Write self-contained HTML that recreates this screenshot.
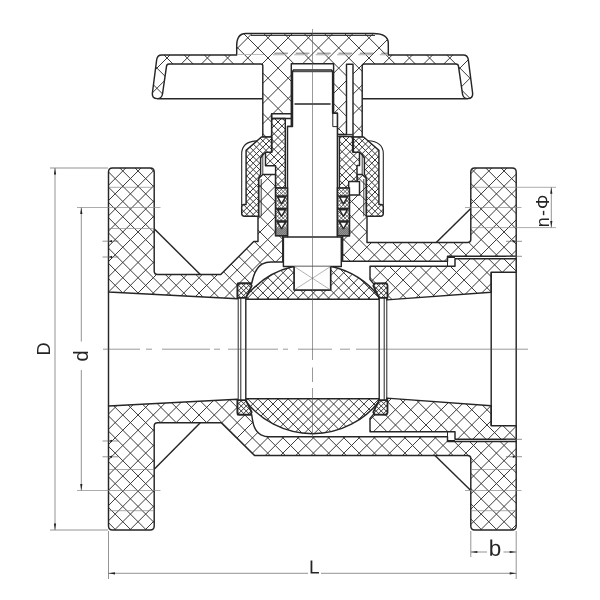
<!DOCTYPE html>
<html><head><meta charset="utf-8"><title>Ball valve</title>
<style>html,body{margin:0;padding:0;background:#fff;}svg{display:block}text{font-family:"Liberation Sans",sans-serif;fill:#222;filter:grayscale(1)}</style>
</head><body>
<svg width="600" height="600" viewBox="0 0 600 600">
<rect width="600" height="600" fill="#fff"/>
<defs>
<clipPath id="c1"><path d="M108.5,172 Q108.5,168 112.5,168 L150.2,168 Q154.2,168 154.2,172 L154.2,271 Q154.2,274.5 157.7,274.5 L220.75,274.5 L253.75,241.5 L258,241.5 L258,216.25 L258.6,216.25 L258.6,178.5 L262.8,174.4 L275.6,174.4 L275.6,235.6 L282.8,235.6 L282.8,262 L271,262 Q266,262 262,264.2 C255.5,268 253.2,276 251.7,283.3 L237.5,283.3 L237.5,298.8 L108.5,292 Z"/></clipPath>
<clipPath id="c2"><path d="M349.4,195 L359.5,195 L359.5,181.5 L357,181.5 L357,174.4 L362.2,174.4 L366.4,178.5 L366.4,216.25 L367,216.25 L367,242.5 L467.5,242.5 Q470.8,242.5 470.8,239.5 L470.8,172 Q470.8,168 474.8,168 L512.2,168 Q516.2,168 516.2,172 L516.2,256.25 L447.5,256.25 L447.5,261.25 L342.6,261.25 L342.6,235.75 L349.4,235.75 Z"/></clipPath>
<clipPath id="c3"><path d="M108.5,406 L237.5,399.2 L237.5,414.7 L251.7,414.7 C252.8,422 253.6,431 261,434.8 Q265,436.8 269,436.8 L447.5,436.8 L447.5,441.5 L516.2,441.5 L516.2,526 Q516.2,530 512.2,530 L474.8,530 Q470.8,530 470.8,526 L470.8,458.5 Q470.8,455.5 467.5,455.5 L254.5,455.5 L221.25,422.8 L157.7,422.8 Q154.2,422.8 154.2,426 L154.2,526 Q154.2,530 150.2,530 L112.5,530 Q108.5,530 108.5,526 Z"/></clipPath>
<clipPath id="c4"><path d="M370,266.25 L455,266.25 L455,258.75 L516.2,258.75 L516.2,272.3 L491.2,272.3 L491.2,292.3 L386.8,299.9 L386.8,283.2 L373.5,283.6 L370,279.5 Z"/></clipPath>
<clipPath id="c5"><path d="M370,431.75 L455,431.75 L455,439.25 L516.2,439.25 L516.2,425.7 L491.2,425.7 L491.2,405.7 L386.8,398.1 L386.8,414.8 L373.5,414.4 L370,418.5 Z"/></clipPath>
<clipPath id="c6"><path d="M245.8,299.3 L245.8,296.80 A84.7,84.7 0 0 1 293.32,266.5 L294.2,266.5 L294.2,290 L330.6,290 L330.6,266.5 L331.68,266.5 A84.7,84.7 0 0 1 379.2,296.80 L379.2,299.3 Z"/></clipPath>
<clipPath id="c7"><path d="M245.8,398.7 L245.8,401.2 A84.7,84.7 0 0 0 379.2,401.2 L379.2,398.7 Z"/></clipPath>
<clipPath id="c8"><path d="M237.5,285 L239,283.3 L250.3,283.3 L251.7,285.8 L245.8,297.8 L237.5,297.8 Z"/></clipPath>
<clipPath id="c9"><path d="M237.5,413.0 L239,414.7 L250.3,414.7 L251.7,412.2 L245.8,400.2 L237.5,400.2 Z"/></clipPath>
<clipPath id="c10"><path d="M387.5,285 L386.0,283.3 L374.7,283.3 L373.3,285.8 L379.2,297.8 L387.5,297.8 Z"/></clipPath>
<clipPath id="c11"><path d="M387.5,413.0 L386.0,414.7 L374.7,414.7 L373.3,412.2 L379.2,400.2 L387.5,400.2 Z"/></clipPath>
<clipPath id="c12"><path d="M236.7,55 L236.7,45.8 Q236.7,33.4 245.8,33.4 L373.3,33.4 Q388.3,33.4 388.3,43.3 L388.3,55 L463.3,55 Q467.6,55 468.3,59.5 L472.6,93 Q473.2,98.8 467.6,98.6 Q463.2,98.5 462.5,94 L458.5,66.3 Q458.3,64 456,64 L364.2,64 Q362.2,64 362.2,66 L362.2,137.2 L353,137.2 L353,64.2 L346.5,64.2 L346.5,134.4 L337.4,134.4 L337.4,113.3 L333.6,113.3 L333.6,63.8 L291.3,63.8 L291.3,113.8 L271.6,113.8 L271.6,136.9 L262.8,136.9 L262.8,66 Q262.8,64 260.8,64 L169,64 Q166.7,64 166.5,66.3 L162.5,94 Q161.8,98.5 157.4,98.6 Q151.8,98.8 152.4,93 L156.7,59.5 Q157.4,55 161.7,55 Z"/></clipPath>
<clipPath id="c13"><path d="M271.8,118.4 L285.3,118.4 L285.3,188 L275.6,188 L275.6,165.7 L265.5,165.7 L265.5,152.2 L271.8,152.2 Z"/></clipPath>
<clipPath id="c14"><path d="M352.6,136.5 L339.4,136.5 L339.4,188.1 L348.7,188.1 L348.7,181.5 L357,181.5 L357,165.4 L359.5,165.4 L359.5,152.1 L352.6,152.1 Z"/></clipPath>
<clipPath id="c15"><path d="M261.4,137 L271.6,137 L271.6,152.2 L265.5,152.2 L262.2,155.5 L260.6,158 L260.6,174 L258.6,178.5 L258.6,216.25 L244.5,216.25 Q241.7,216.25 241.7,213.5 L241.7,206.5 Q241.7,204.4 244,204.4 L246.1,204.4 L246.1,150.3 Z"/></clipPath>
<clipPath id="c16"><path d="M363.6,137 L353.4,137 L353.4,152.2 L359.5,152.2 L362.8,155.5 L364.4,158 L364.4,174 L366.4,178.5 L366.4,216.25 L380.5,216.25 Q383.3,216.25 383.3,213.5 L383.3,206.5 Q383.3,204.4 381.0,204.4 L378.9,204.4 L378.9,150.3 Z"/></clipPath>
<clipPath id="c17"><path d="M275.6,188.1 L287.5,188.1 L287.5,235.8 L275.6,235.8 Z"/></clipPath>
<clipPath id="c18"><path d="M275.6,227.5 L287.5,227.5 L287.5,235.8 L275.6,235.8 Z"/></clipPath>
<clipPath id="c19"><path d="M337.5,188.1 L349.4,188.1 L349.4,235.8 L337.5,235.8 Z"/></clipPath>
<clipPath id="c20"><path d="M337.5,227.5 L349.4,227.5 L349.4,235.8 L337.5,235.8 Z"/></clipPath>
</defs>
<path d="M108.5,172 Q108.5,168 112.5,168 L150.2,168 Q154.2,168 154.2,172 L154.2,271 Q154.2,274.5 157.7,274.5 L220.75,274.5 L253.75,241.5 L258,241.5 L258,216.25 L258.6,216.25 L258.6,178.5 L262.8,174.4 L275.6,174.4 L275.6,235.6 L282.8,235.6 L282.8,262 L271,262 Q266,262 262,264.2 C255.5,268 253.2,276 251.7,283.3 L237.5,283.3 L237.5,298.8 L108.5,292 Z" fill="#fff" stroke="none"/>
<path clip-path="url(#c1)" d="M-55.93,160.00L94.07,310.00M-40.68,160.00L109.32,310.00M-25.43,160.00L124.57,310.00M-10.18,160.00L139.82,310.00M5.07,160.00L155.07,310.00M20.32,160.00L170.32,310.00M35.57,160.00L185.57,310.00M50.82,160.00L200.82,310.00M66.07,160.00L216.07,310.00M81.32,160.00L231.32,310.00M96.57,160.00L246.57,310.00M111.82,160.00L261.82,310.00M127.07,160.00L277.07,310.00M142.32,160.00L292.32,310.00M157.57,160.00L307.57,310.00M172.82,160.00L322.82,310.00M188.07,160.00L338.07,310.00M203.32,160.00L353.32,310.00M218.57,160.00L368.57,310.00M233.82,160.00L383.82,310.00M249.07,160.00L399.07,310.00M264.32,160.00L414.32,310.00M279.57,160.00L429.57,310.00M294.82,160.00L444.82,310.00M88.02,160.00L-61.98,310.00M103.27,160.00L-46.73,310.00M118.52,160.00L-31.48,310.00M133.77,160.00L-16.23,310.00M149.02,160.00L-0.98,310.00M164.27,160.00L14.27,310.00M179.52,160.00L29.52,310.00M194.77,160.00L44.77,310.00M210.02,160.00L60.02,310.00M225.27,160.00L75.27,310.00M240.52,160.00L90.52,310.00M255.77,160.00L105.77,310.00M271.02,160.00L121.02,310.00M286.27,160.00L136.27,310.00M301.52,160.00L151.52,310.00M316.77,160.00L166.77,310.00M332.02,160.00L182.02,310.00M347.27,160.00L197.27,310.00M362.52,160.00L212.52,310.00M377.77,160.00L227.77,310.00M393.02,160.00L243.02,310.00M408.27,160.00L258.27,310.00M423.52,160.00L273.52,310.00M438.77,160.00L288.77,310.00" fill="none" stroke="#3a3a3a" stroke-width="1.0"/>
<path d="M108.5,172 Q108.5,168 112.5,168 L150.2,168 Q154.2,168 154.2,172 L154.2,271 Q154.2,274.5 157.7,274.5 L220.75,274.5 L253.75,241.5 L258,241.5 L258,216.25 L258.6,216.25 L258.6,178.5 L262.8,174.4 L275.6,174.4 L275.6,235.6 L282.8,235.6 L282.8,262 L271,262 Q266,262 262,264.2 C255.5,268 253.2,276 251.7,283.3 L237.5,283.3 L237.5,298.8 L108.5,292 Z" fill="none" stroke="#262626" stroke-width="1.45" stroke-linejoin="round"/>
<path d="M349.4,195 L359.5,195 L359.5,181.5 L357,181.5 L357,174.4 L362.2,174.4 L366.4,178.5 L366.4,216.25 L367,216.25 L367,242.5 L467.5,242.5 Q470.8,242.5 470.8,239.5 L470.8,172 Q470.8,168 474.8,168 L512.2,168 Q516.2,168 516.2,172 L516.2,256.25 L447.5,256.25 L447.5,261.25 L342.6,261.25 L342.6,235.75 L349.4,235.75 Z" fill="#fff" stroke="none"/>
<path clip-path="url(#c2)" d="M218.57,160.00L328.57,270.00M233.82,160.00L343.82,270.00M249.07,160.00L359.07,270.00M264.32,160.00L374.32,270.00M279.57,160.00L389.57,270.00M294.82,160.00L404.82,270.00M310.07,160.00L420.07,270.00M325.32,160.00L435.32,270.00M340.57,160.00L450.57,270.00M355.82,160.00L465.82,270.00M371.07,160.00L481.07,270.00M386.32,160.00L496.32,270.00M401.57,160.00L511.57,270.00M416.82,160.00L526.82,270.00M432.07,160.00L542.07,270.00M447.32,160.00L557.32,270.00M462.57,160.00L572.57,270.00M477.82,160.00L587.82,270.00M493.07,160.00L603.07,270.00M508.32,160.00L618.32,270.00M523.57,160.00L633.57,270.00M316.77,160.00L206.77,270.00M332.02,160.00L222.02,270.00M347.27,160.00L237.27,270.00M362.52,160.00L252.52,270.00M377.77,160.00L267.77,270.00M393.02,160.00L283.02,270.00M408.27,160.00L298.27,270.00M423.52,160.00L313.52,270.00M438.77,160.00L328.77,270.00M454.02,160.00L344.02,270.00M469.27,160.00L359.27,270.00M484.52,160.00L374.52,270.00M499.77,160.00L389.77,270.00M515.02,160.00L405.02,270.00M530.27,160.00L420.27,270.00M545.52,160.00L435.52,270.00M560.77,160.00L450.77,270.00M576.02,160.00L466.02,270.00M591.27,160.00L481.27,270.00M606.52,160.00L496.52,270.00M621.77,160.00L511.77,270.00M637.02,160.00L527.02,270.00" fill="none" stroke="#3a3a3a" stroke-width="1.0"/>
<path d="M349.4,195 L359.5,195 L359.5,181.5 L357,181.5 L357,174.4 L362.2,174.4 L366.4,178.5 L366.4,216.25 L367,216.25 L367,242.5 L467.5,242.5 Q470.8,242.5 470.8,239.5 L470.8,172 Q470.8,168 474.8,168 L512.2,168 Q516.2,168 516.2,172 L516.2,256.25 L447.5,256.25 L447.5,261.25 L342.6,261.25 L342.6,235.75 L349.4,235.75 Z" fill="none" stroke="#262626" stroke-width="1.45" stroke-linejoin="round"/>
<path d="M108.5,406 L237.5,399.2 L237.5,414.7 L251.7,414.7 C252.8,422 253.6,431 261,434.8 Q265,436.8 269,436.8 L447.5,436.8 L447.5,441.5 L516.2,441.5 L516.2,526 Q516.2,530 512.2,530 L474.8,530 Q470.8,530 470.8,526 L470.8,458.5 Q470.8,455.5 467.5,455.5 L254.5,455.5 L221.25,422.8 L157.7,422.8 Q154.2,422.8 154.2,426 L154.2,526 Q154.2,530 150.2,530 L112.5,530 Q108.5,530 108.5,526 Z" fill="#fff" stroke="none"/>
<path clip-path="url(#c3)" d="M-54.68,390.00L95.32,540.00M-39.43,390.00L110.57,540.00M-24.18,390.00L125.82,540.00M-8.93,390.00L141.07,540.00M6.32,390.00L156.32,540.00M21.57,390.00L171.57,540.00M36.82,390.00L186.82,540.00M52.07,390.00L202.07,540.00M67.32,390.00L217.32,540.00M82.57,390.00L232.57,540.00M97.82,390.00L247.82,540.00M113.07,390.00L263.07,540.00M128.32,390.00L278.32,540.00M143.57,390.00L293.57,540.00M158.82,390.00L308.82,540.00M174.07,390.00L324.07,540.00M189.32,390.00L339.32,540.00M204.57,390.00L354.57,540.00M219.82,390.00L369.82,540.00M235.07,390.00L385.07,540.00M250.32,390.00L400.32,540.00M265.57,390.00L415.57,540.00M280.82,390.00L430.82,540.00M296.07,390.00L446.07,540.00M311.32,390.00L461.32,540.00M326.57,390.00L476.57,540.00M341.82,390.00L491.82,540.00M357.07,390.00L507.07,540.00M372.32,390.00L522.32,540.00M387.57,390.00L537.57,540.00M402.82,390.00L552.82,540.00M418.07,390.00L568.07,540.00M433.32,390.00L583.32,540.00M448.57,390.00L598.57,540.00M463.82,390.00L613.82,540.00M479.07,390.00L629.07,540.00M494.32,390.00L644.32,540.00M509.57,390.00L659.57,540.00M524.82,390.00L674.82,540.00M86.77,390.00L-63.23,540.00M102.02,390.00L-47.98,540.00M117.27,390.00L-32.73,540.00M132.52,390.00L-17.48,540.00M147.77,390.00L-2.23,540.00M163.02,390.00L13.02,540.00M178.27,390.00L28.27,540.00M193.52,390.00L43.52,540.00M208.77,390.00L58.77,540.00M224.02,390.00L74.02,540.00M239.27,390.00L89.27,540.00M254.52,390.00L104.52,540.00M269.77,390.00L119.77,540.00M285.02,390.00L135.02,540.00M300.27,390.00L150.27,540.00M315.52,390.00L165.52,540.00M330.77,390.00L180.77,540.00M346.02,390.00L196.02,540.00M361.27,390.00L211.27,540.00M376.52,390.00L226.52,540.00M391.77,390.00L241.77,540.00M407.02,390.00L257.02,540.00M422.27,390.00L272.27,540.00M437.52,390.00L287.52,540.00M452.77,390.00L302.77,540.00M468.02,390.00L318.02,540.00M483.27,390.00L333.27,540.00M498.52,390.00L348.52,540.00M513.77,390.00L363.77,540.00M529.02,390.00L379.02,540.00M544.27,390.00L394.27,540.00M559.52,390.00L409.52,540.00M574.77,390.00L424.77,540.00M590.02,390.00L440.02,540.00M605.27,390.00L455.27,540.00M620.52,390.00L470.52,540.00M635.77,390.00L485.77,540.00M651.02,390.00L501.02,540.00M666.27,390.00L516.27,540.00" fill="none" stroke="#3a3a3a" stroke-width="1.0"/>
<path d="M108.5,406 L237.5,399.2 L237.5,414.7 L251.7,414.7 C252.8,422 253.6,431 261,434.8 Q265,436.8 269,436.8 L447.5,436.8 L447.5,441.5 L516.2,441.5 L516.2,526 Q516.2,530 512.2,530 L474.8,530 Q470.8,530 470.8,526 L470.8,458.5 Q470.8,455.5 467.5,455.5 L254.5,455.5 L221.25,422.8 L157.7,422.8 Q154.2,422.8 154.2,426 L154.2,526 Q154.2,530 150.2,530 L112.5,530 Q108.5,530 108.5,526 Z" fill="none" stroke="#262626" stroke-width="1.45" stroke-linejoin="round"/>
<path d="M108.5,292 L108.5,406" fill="none" stroke="#262626" stroke-width="1.45" stroke-linejoin="round" stroke-linecap="butt" />
<path d="M516.2,256 L516.2,442" fill="none" stroke="#262626" stroke-width="1.45" stroke-linejoin="round" stroke-linecap="butt" />
<path d="M154.2,228.75 L200.3,274.5" fill="none" stroke="#262626" stroke-width="1.45" stroke-linejoin="round" stroke-linecap="butt" />
<path d="M154.2,469.25 L200.3,422.8" fill="none" stroke="#262626" stroke-width="1.45" stroke-linejoin="round" stroke-linecap="butt" />
<path d="M436.25,242.5 L470.8,208.5" fill="none" stroke="#262626" stroke-width="1.45" stroke-linejoin="round" stroke-linecap="butt" />
<path d="M435,455.5 L470.8,490.5" fill="none" stroke="#262626" stroke-width="1.45" stroke-linejoin="round" stroke-linecap="butt" />
<path d="M370,266.25 L455,266.25 L455,258.75 L516.2,258.75 L516.2,272.3 L491.2,272.3 L491.2,292.3 L386.8,299.9 L386.8,283.2 L373.5,283.6 L370,279.5 Z" fill="#fff" stroke="none"/>
<path clip-path="url(#c4)" d="M296.75,250.00L356.75,310.00M312.00,250.00L372.00,310.00M327.25,250.00L387.25,310.00M342.50,250.00L402.50,310.00M357.75,250.00L417.75,310.00M373.00,250.00L433.00,310.00M388.25,250.00L448.25,310.00M403.50,250.00L463.50,310.00M418.75,250.00L478.75,310.00M434.00,250.00L494.00,310.00M449.25,250.00L509.25,310.00M464.50,250.00L524.50,310.00M479.75,250.00L539.75,310.00M495.00,250.00L555.00,310.00M510.25,250.00L570.25,310.00M525.50,250.00L585.50,310.00M356.95,250.00L296.95,310.00M372.20,250.00L312.20,310.00M387.45,250.00L327.45,310.00M402.70,250.00L342.70,310.00M417.95,250.00L357.95,310.00M433.20,250.00L373.20,310.00M448.45,250.00L388.45,310.00M463.70,250.00L403.70,310.00M478.95,250.00L418.95,310.00M494.20,250.00L434.20,310.00M509.45,250.00L449.45,310.00M524.70,250.00L464.70,310.00M539.95,250.00L479.95,310.00M555.20,250.00L495.20,310.00M570.45,250.00L510.45,310.00M585.70,250.00L525.70,310.00" fill="none" stroke="#3a3a3a" stroke-width="1.0"/>
<path d="M370,266.25 L455,266.25 L455,258.75 L516.2,258.75 L516.2,272.3 L491.2,272.3 L491.2,292.3 L386.8,299.9 L386.8,283.2 L373.5,283.6 L370,279.5 Z" fill="none" stroke="#262626" stroke-width="1.45" stroke-linejoin="round"/>
<path d="M370,431.75 L455,431.75 L455,439.25 L516.2,439.25 L516.2,425.7 L491.2,425.7 L491.2,405.7 L386.8,398.1 L386.8,414.8 L373.5,414.4 L370,418.5 Z" fill="#fff" stroke="none"/>
<path clip-path="url(#c5)" d="M299.50,390.00L359.50,450.00M314.75,390.00L374.75,450.00M330.00,390.00L390.00,450.00M345.25,390.00L405.25,450.00M360.50,390.00L420.50,450.00M375.75,390.00L435.75,450.00M391.00,390.00L451.00,450.00M406.25,390.00L466.25,450.00M421.50,390.00L481.50,450.00M436.75,390.00L496.75,450.00M452.00,390.00L512.00,450.00M467.25,390.00L527.25,450.00M482.50,390.00L542.50,450.00M497.75,390.00L557.75,450.00M513.00,390.00L573.00,450.00M528.25,390.00L588.25,450.00M354.20,390.00L294.20,450.00M369.45,390.00L309.45,450.00M384.70,390.00L324.70,450.00M399.95,390.00L339.95,450.00M415.20,390.00L355.20,450.00M430.45,390.00L370.45,450.00M445.70,390.00L385.70,450.00M460.95,390.00L400.95,450.00M476.20,390.00L416.20,450.00M491.45,390.00L431.45,450.00M506.70,390.00L446.70,450.00M521.95,390.00L461.95,450.00M537.20,390.00L477.20,450.00M552.45,390.00L492.45,450.00M567.70,390.00L507.70,450.00M582.95,390.00L522.95,450.00" fill="none" stroke="#3a3a3a" stroke-width="1.0"/>
<path d="M370,431.75 L455,431.75 L455,439.25 L516.2,439.25 L516.2,425.7 L491.2,425.7 L491.2,405.7 L386.8,398.1 L386.8,414.8 L373.5,414.4 L370,418.5 Z" fill="none" stroke="#262626" stroke-width="1.45" stroke-linejoin="round"/>
<path d="M491.2,272.3 L491.2,425.7" fill="none" stroke="#262626" stroke-width="1.45" stroke-linejoin="round" stroke-linecap="butt" />
<path d="M447.5,257.5 L455,257.5 M447.5,440.5 L455,440.5 M447.5,256.25 L447.5,266.25 M447.5,441.75 L447.5,431.75" fill="none" stroke="#262626" stroke-width="1.0" stroke-linejoin="round" stroke-linecap="butt" />
<path d="M245.8,299.3 L245.8,296.80 A84.7,84.7 0 0 1 293.32,266.5 L294.2,266.5 L294.2,290 L330.6,290 L330.6,266.5 L331.68,266.5 A84.7,84.7 0 0 1 379.2,296.80 L379.2,299.3 Z" fill="#fff" stroke="none"/>
<path clip-path="url(#c6)" d="M184.60,255.00L234.60,305.00M194.70,255.00L244.70,305.00M204.80,255.00L254.80,305.00M214.90,255.00L264.90,305.00M225.00,255.00L275.00,305.00M235.10,255.00L285.10,305.00M245.20,255.00L295.20,305.00M255.30,255.00L305.30,305.00M265.40,255.00L315.40,305.00M275.50,255.00L325.50,305.00M285.60,255.00L335.60,305.00M295.70,255.00L345.70,305.00M305.80,255.00L355.80,305.00M315.90,255.00L365.90,305.00M326.00,255.00L376.00,305.00M336.10,255.00L386.10,305.00M346.20,255.00L396.20,305.00M356.30,255.00L406.30,305.00M366.40,255.00L416.40,305.00M376.50,255.00L426.50,305.00M230.10,255.00L180.10,305.00M240.20,255.00L190.20,305.00M250.30,255.00L200.30,305.00M260.40,255.00L210.40,305.00M270.50,255.00L220.50,305.00M280.60,255.00L230.60,305.00M290.70,255.00L240.70,305.00M300.80,255.00L250.80,305.00M310.90,255.00L260.90,305.00M321.00,255.00L271.00,305.00M331.10,255.00L281.10,305.00M341.20,255.00L291.20,305.00M351.30,255.00L301.30,305.00M361.40,255.00L311.40,305.00M371.50,255.00L321.50,305.00M381.60,255.00L331.60,305.00M391.70,255.00L341.70,305.00M401.80,255.00L351.80,305.00M411.90,255.00L361.90,305.00M422.00,255.00L372.00,305.00M432.10,255.00L382.10,305.00" fill="none" stroke="#3a3a3a" stroke-width="1.0"/>
<path d="M245.8,299.3 L245.8,296.80 A84.7,84.7 0 0 1 293.32,266.5 L294.2,266.5 L294.2,290 L330.6,290 L330.6,266.5 L331.68,266.5 A84.7,84.7 0 0 1 379.2,296.80 L379.2,299.3 Z" fill="none" stroke="#262626" stroke-width="1.45" stroke-linejoin="round"/>
<path d="M245.8,398.7 L245.8,401.2 A84.7,84.7 0 0 0 379.2,401.2 L379.2,398.7 Z" fill="#fff" stroke="none"/>
<path clip-path="url(#c7)" d="M193.30,395.00L238.30,440.00M203.40,395.00L248.40,440.00M213.50,395.00L258.50,440.00M223.60,395.00L268.60,440.00M233.70,395.00L278.70,440.00M243.80,395.00L288.80,440.00M253.90,395.00L298.90,440.00M264.00,395.00L309.00,440.00M274.10,395.00L319.10,440.00M284.20,395.00L329.20,440.00M294.30,395.00L339.30,440.00M304.40,395.00L349.40,440.00M314.50,395.00L359.50,440.00M324.60,395.00L369.60,440.00M334.70,395.00L379.70,440.00M344.80,395.00L389.80,440.00M354.90,395.00L399.90,440.00M365.00,395.00L410.00,440.00M375.10,395.00L420.10,440.00M231.50,395.00L186.50,440.00M241.60,395.00L196.60,440.00M251.70,395.00L206.70,440.00M261.80,395.00L216.80,440.00M271.90,395.00L226.90,440.00M282.00,395.00L237.00,440.00M292.10,395.00L247.10,440.00M302.20,395.00L257.20,440.00M312.30,395.00L267.30,440.00M322.40,395.00L277.40,440.00M332.50,395.00L287.50,440.00M342.60,395.00L297.60,440.00M352.70,395.00L307.70,440.00M362.80,395.00L317.80,440.00M372.90,395.00L327.90,440.00M383.00,395.00L338.00,440.00M393.10,395.00L348.10,440.00M403.20,395.00L358.20,440.00M413.30,395.00L368.30,440.00M423.40,395.00L378.40,440.00" fill="none" stroke="#3a3a3a" stroke-width="1.0"/>
<path d="M245.8,398.7 L245.8,401.2 A84.7,84.7 0 0 0 379.2,401.2 L379.2,398.7 Z" fill="none" stroke="#262626" stroke-width="1.45" stroke-linejoin="round"/>
<path d="M237.5,285 L239,283.3 L250.3,283.3 L251.7,285.8 L245.8,297.8 L237.5,297.8 Z" fill="#fff" stroke="none"/>
<path clip-path="url(#c8)" d="M215.50,282.30L232.00,298.80M220.50,282.30L237.00,298.80M225.50,282.30L242.00,298.80M230.50,282.30L247.00,298.80M235.50,282.30L252.00,298.80M240.50,282.30L257.00,298.80M245.50,282.30L262.00,298.80M250.50,282.30L267.00,298.80M231.90,282.30L215.40,298.80M236.90,282.30L220.40,298.80M241.90,282.30L225.40,298.80M246.90,282.30L230.40,298.80M251.90,282.30L235.40,298.80M256.90,282.30L240.40,298.80M261.90,282.30L245.40,298.80M266.90,282.30L250.40,298.80" fill="none" stroke="#3a3a3a" stroke-width="1.0"/>
<path d="M237.5,285 L239,283.3 L250.3,283.3 L251.7,285.8 L245.8,297.8 L237.5,297.8 Z" fill="none" stroke="#262626" stroke-width="1.8" stroke-linejoin="round"/>
<path d="M237.5,413.0 L239,414.7 L250.3,414.7 L251.7,412.2 L245.8,400.2 L237.5,400.2 Z" fill="#fff" stroke="none"/>
<path clip-path="url(#c9)" d="M219.40,399.20L235.90,415.70M224.40,399.20L240.90,415.70M229.40,399.20L245.90,415.70M234.40,399.20L250.90,415.70M239.40,399.20L255.90,415.70M244.40,399.20L260.90,415.70M249.40,399.20L265.90,415.70M233.00,399.20L216.50,415.70M238.00,399.20L221.50,415.70M243.00,399.20L226.50,415.70M248.00,399.20L231.50,415.70M253.00,399.20L236.50,415.70M258.00,399.20L241.50,415.70M263.00,399.20L246.50,415.70M268.00,399.20L251.50,415.70" fill="none" stroke="#3a3a3a" stroke-width="1.0"/>
<path d="M237.5,413.0 L239,414.7 L250.3,414.7 L251.7,412.2 L245.8,400.2 L237.5,400.2 Z" fill="none" stroke="#262626" stroke-width="1.8" stroke-linejoin="round"/>
<path d="M387.5,285 L386.0,283.3 L374.7,283.3 L373.3,285.8 L379.2,297.8 L387.5,297.8 Z" fill="#fff" stroke="none"/>
<path clip-path="url(#c10)" d="M355.50,282.30L372.00,298.80M360.50,282.30L377.00,298.80M365.50,282.30L382.00,298.80M370.50,282.30L387.00,298.80M375.50,282.30L392.00,298.80M380.50,282.30L397.00,298.80M385.50,282.30L402.00,298.80M371.90,282.30L355.40,298.80M376.90,282.30L360.40,298.80M381.90,282.30L365.40,298.80M386.90,282.30L370.40,298.80M391.90,282.30L375.40,298.80M396.90,282.30L380.40,298.80M401.90,282.30L385.40,298.80" fill="none" stroke="#3a3a3a" stroke-width="1.0"/>
<path d="M387.5,285 L386.0,283.3 L374.7,283.3 L373.3,285.8 L379.2,297.8 L387.5,297.8 Z" fill="none" stroke="#262626" stroke-width="1.8" stroke-linejoin="round"/>
<path d="M387.5,413.0 L386.0,414.7 L374.7,414.7 L373.3,412.2 L379.2,400.2 L387.5,400.2 Z" fill="#fff" stroke="none"/>
<path clip-path="url(#c11)" d="M354.40,399.20L370.90,415.70M359.40,399.20L375.90,415.70M364.40,399.20L380.90,415.70M369.40,399.20L385.90,415.70M374.40,399.20L390.90,415.70M379.40,399.20L395.90,415.70M384.40,399.20L400.90,415.70M368.00,399.20L351.50,415.70M373.00,399.20L356.50,415.70M378.00,399.20L361.50,415.70M383.00,399.20L366.50,415.70M388.00,399.20L371.50,415.70M393.00,399.20L376.50,415.70M398.00,399.20L381.50,415.70M403.00,399.20L386.50,415.70" fill="none" stroke="#3a3a3a" stroke-width="1.0"/>
<path d="M387.5,413.0 L386.0,414.7 L374.7,414.7 L373.3,412.2 L379.2,400.2 L387.5,400.2 Z" fill="none" stroke="#262626" stroke-width="1.8" stroke-linejoin="round"/>
<path d="M245.8,299.3 L245.8,398.7 M379.2,299.3 L379.2,398.7" fill="none" stroke="#262626" stroke-width="1.4" stroke-linejoin="round" stroke-linecap="butt" />
<path d="M238.2,298 L238.2,400 M240.8,298 L240.8,400 M386.8,298 L386.8,400 M384.2,298 L384.2,400" fill="none" stroke="#262626" stroke-width="1.0" stroke-linejoin="round" stroke-linecap="butt" />
<path d="M236.7,55 L236.7,45.8 Q236.7,33.4 245.8,33.4 L373.3,33.4 Q388.3,33.4 388.3,43.3 L388.3,55 L463.3,55 Q467.6,55 468.3,59.5 L472.6,93 Q473.2,98.8 467.6,98.6 Q463.2,98.5 462.5,94 L458.5,66.3 Q458.3,64 456,64 L364.2,64 Q362.2,64 362.2,66 L362.2,137.2 L353,137.2 L353,64.2 L346.5,64.2 L346.5,134.4 L337.4,134.4 L337.4,113.3 L333.6,113.3 L333.6,63.8 L291.3,63.8 L291.3,113.8 L271.6,113.8 L271.6,136.9 L262.8,136.9 L262.8,66 Q262.8,64 260.8,64 L169,64 Q166.7,64 166.5,66.3 L162.5,94 Q161.8,98.5 157.4,98.6 Q151.8,98.8 152.4,93 L156.7,59.5 Q157.4,55 161.7,55 Z" fill="#fff" stroke="none"/>
<path clip-path="url(#c12)" d="M15.80,28.00L129.80,142.00M36.00,28.00L150.00,142.00M56.20,28.00L170.20,142.00M76.40,28.00L190.40,142.00M96.60,28.00L210.60,142.00M116.80,28.00L230.80,142.00M137.00,28.00L251.00,142.00M157.20,28.00L271.20,142.00M177.40,28.00L291.40,142.00M197.60,28.00L311.60,142.00M217.80,28.00L331.80,142.00M238.00,28.00L352.00,142.00M258.20,28.00L372.20,142.00M278.40,28.00L392.40,142.00M298.60,28.00L412.60,142.00M318.80,28.00L432.80,142.00M339.00,28.00L453.00,142.00M359.20,28.00L473.20,142.00M379.40,28.00L493.40,142.00M399.60,28.00L513.60,142.00M419.80,28.00L533.80,142.00M440.00,28.00L554.00,142.00M460.20,28.00L574.20,142.00M136.40,28.00L22.40,142.00M156.60,28.00L42.60,142.00M176.80,28.00L62.80,142.00M197.00,28.00L83.00,142.00M217.20,28.00L103.20,142.00M237.40,28.00L123.40,142.00M257.60,28.00L143.60,142.00M277.80,28.00L163.80,142.00M298.00,28.00L184.00,142.00M318.20,28.00L204.20,142.00M338.40,28.00L224.40,142.00M358.60,28.00L244.60,142.00M378.80,28.00L264.80,142.00M399.00,28.00L285.00,142.00M419.20,28.00L305.20,142.00M439.40,28.00L325.40,142.00M459.60,28.00L345.60,142.00M479.80,28.00L365.80,142.00M500.00,28.00L386.00,142.00M520.20,28.00L406.20,142.00M540.40,28.00L426.40,142.00M560.60,28.00L446.60,142.00M580.80,28.00L466.80,142.00" fill="none" stroke="#3a3a3a" stroke-width="1.0"/>
<path d="M236.7,55 L236.7,45.8 Q236.7,33.4 245.8,33.4 L373.3,33.4 Q388.3,33.4 388.3,43.3 L388.3,55 L463.3,55 Q467.6,55 468.3,59.5 L472.6,93 Q473.2,98.8 467.6,98.6 Q463.2,98.5 462.5,94 L458.5,66.3 Q458.3,64 456,64 L364.2,64 Q362.2,64 362.2,66 L362.2,137.2 L353,137.2 L353,64.2 L346.5,64.2 L346.5,134.4 L337.4,134.4 L337.4,113.3 L333.6,113.3 L333.6,63.8 L291.3,63.8 L291.3,113.8 L271.6,113.8 L271.6,136.9 L262.8,136.9 L262.8,66 Q262.8,64 260.8,64 L169,64 Q166.7,64 166.5,66.3 L162.5,94 Q161.8,98.5 157.4,98.6 Q151.8,98.8 152.4,93 L156.7,59.5 Q157.4,55 161.7,55 Z" fill="none" stroke="#262626" stroke-width="1.45" stroke-linejoin="round"/>
<path d="M251,35.4 L375,35.4" fill="none" stroke="#262626" stroke-width="1.0" stroke-linejoin="round" stroke-linecap="butt" />
<path d="M157.4,98.7 L262.8,98.7 M362.2,98.7 L467.6,98.7" fill="none" stroke="#262626" stroke-width="1.45" stroke-linejoin="round" stroke-linecap="butt" />
<path d="M237,54.5 L264,54.5" fill="none" stroke="#aaa" stroke-width="0.8" stroke-linejoin="round" stroke-linecap="butt" />
<path d="M272.8,54.7 L388,54.7" fill="none" stroke="#aaa" stroke-width="1.1" stroke-linejoin="round" stroke-linecap="butt" stroke-dasharray="13.7 7.7"/>
<path d="M274.3,53.2 L388,53.2" fill="none" stroke="#444" stroke-width="0.7" stroke-linejoin="round" stroke-linecap="butt" stroke-dasharray="13.7 7.7"/>
<path d="M271.8,118.4 L285.3,118.4 L285.3,188 L275.6,188 L275.6,165.7 L265.5,165.7 L265.5,152.2 L271.8,152.2 Z" fill="#fff" stroke="none"/>
<path clip-path="url(#c13)" d="M185.20,115.00L260.20,190.00M193.00,115.00L268.00,190.00M200.80,115.00L275.80,190.00M208.60,115.00L283.60,190.00M216.40,115.00L291.40,190.00M224.20,115.00L299.20,190.00M232.00,115.00L307.00,190.00M239.80,115.00L314.80,190.00M247.60,115.00L322.60,190.00M255.40,115.00L330.40,190.00M263.20,115.00L338.20,190.00M271.00,115.00L346.00,190.00M278.80,115.00L353.80,190.00M286.60,115.00L361.60,190.00M261.60,115.00L186.60,190.00M269.40,115.00L194.40,190.00M277.20,115.00L202.20,190.00M285.00,115.00L210.00,190.00M292.80,115.00L217.80,190.00M300.60,115.00L225.60,190.00M308.40,115.00L233.40,190.00M316.20,115.00L241.20,190.00M324.00,115.00L249.00,190.00M331.80,115.00L256.80,190.00M339.60,115.00L264.60,190.00M347.40,115.00L272.40,190.00M355.20,115.00L280.20,190.00M363.00,115.00L288.00,190.00" fill="none" stroke="#3a3a3a" stroke-width="1.0"/>
<path d="M271.8,118.4 L285.3,118.4 L285.3,188 L275.6,188 L275.6,165.7 L265.5,165.7 L265.5,152.2 L271.8,152.2 Z" fill="none" stroke="#262626" stroke-width="1.45" stroke-linejoin="round"/>
<path d="M352.6,136.5 L339.4,136.5 L339.4,188.1 L348.7,188.1 L348.7,181.5 L357,181.5 L357,165.4 L359.5,165.4 L359.5,152.1 L352.6,152.1 Z" fill="#fff" stroke="none"/>
<path clip-path="url(#c14)" d="M276.60,133.00L333.60,190.00M284.40,133.00L341.40,190.00M292.20,133.00L349.20,190.00M300.00,133.00L357.00,190.00M307.80,133.00L364.80,190.00M315.60,133.00L372.60,190.00M323.40,133.00L380.40,190.00M331.20,133.00L388.20,190.00M339.00,133.00L396.00,190.00M346.80,133.00L403.80,190.00M354.60,133.00L411.60,190.00M329.60,133.00L272.60,190.00M337.40,133.00L280.40,190.00M345.20,133.00L288.20,190.00M353.00,133.00L296.00,190.00M360.80,133.00L303.80,190.00M368.60,133.00L311.60,190.00M376.40,133.00L319.40,190.00M384.20,133.00L327.20,190.00M392.00,133.00L335.00,190.00M399.80,133.00L342.80,190.00M407.60,133.00L350.60,190.00M415.40,133.00L358.40,190.00" fill="none" stroke="#3a3a3a" stroke-width="1.0"/>
<path d="M352.6,136.5 L339.4,136.5 L339.4,188.1 L348.7,188.1 L348.7,181.5 L357,181.5 L357,165.4 L359.5,165.4 L359.5,152.1 L352.6,152.1 Z" fill="none" stroke="#262626" stroke-width="1.45" stroke-linejoin="round"/>
<path d="M271.6,113.8 L271.6,118.4 M271.6,118.4 L291.3,118.4 M291.3,113.8 L291.3,126.4 L287.3,126.4" fill="none" stroke="#262626" stroke-width="1.45" stroke-linejoin="round" stroke-linecap="butt" />
<path d="M337.4,136.3 L352.8,136.3 M337.4,134.4 L352.8,134.4" fill="none" stroke="#262626" stroke-width="1.0" stroke-linejoin="round" stroke-linecap="butt" />
<path d="M261.4,137 L271.6,137 L271.6,152.2 L265.5,152.2 L262.2,155.5 L260.6,158 L260.6,174 L258.6,178.5 L258.6,216.25 L244.5,216.25 Q241.7,216.25 241.7,213.5 L241.7,206.5 Q241.7,204.4 244,204.4 L246.1,204.4 L246.1,150.3 Z" fill="#fff" stroke="none"/>
<path clip-path="url(#c15)" d="M147.20,134.00L233.20,220.00M153.60,134.00L239.60,220.00M160.00,134.00L246.00,220.00M166.40,134.00L252.40,220.00M172.80,134.00L258.80,220.00M179.20,134.00L265.20,220.00M185.60,134.00L271.60,220.00M192.00,134.00L278.00,220.00M198.40,134.00L284.40,220.00M204.80,134.00L290.80,220.00M211.20,134.00L297.20,220.00M217.60,134.00L303.60,220.00M224.00,134.00L310.00,220.00M230.40,134.00L316.40,220.00M236.80,134.00L322.80,220.00M243.20,134.00L329.20,220.00M249.60,134.00L335.60,220.00M256.00,134.00L342.00,220.00M262.40,134.00L348.40,220.00M268.80,134.00L354.80,220.00M237.60,134.00L151.60,220.00M244.00,134.00L158.00,220.00M250.40,134.00L164.40,220.00M256.80,134.00L170.80,220.00M263.20,134.00L177.20,220.00M269.60,134.00L183.60,220.00M276.00,134.00L190.00,220.00M282.40,134.00L196.40,220.00M288.80,134.00L202.80,220.00M295.20,134.00L209.20,220.00M301.60,134.00L215.60,220.00M308.00,134.00L222.00,220.00M314.40,134.00L228.40,220.00M320.80,134.00L234.80,220.00M327.20,134.00L241.20,220.00M333.60,134.00L247.60,220.00M340.00,134.00L254.00,220.00M346.40,134.00L260.40,220.00M352.80,134.00L266.80,220.00M359.20,134.00L273.20,220.00" fill="none" stroke="#3a3a3a" stroke-width="1.0"/>
<path d="M261.4,137 L271.6,137 L271.6,152.2 L265.5,152.2 L262.2,155.5 L260.6,158 L260.6,174 L258.6,178.5 L258.6,216.25 L244.5,216.25 Q241.7,216.25 241.7,213.5 L241.7,206.5 Q241.7,204.4 244,204.4 L246.1,204.4 L246.1,150.3 Z" fill="none" stroke="#262626" stroke-width="1.45" stroke-linejoin="round"/>
<path d="M363.6,137 L353.4,137 L353.4,152.2 L359.5,152.2 L362.8,155.5 L364.4,158 L364.4,174 L366.4,178.5 L366.4,216.25 L380.5,216.25 Q383.3,216.25 383.3,213.5 L383.3,206.5 Q383.3,204.4 381.0,204.4 L378.9,204.4 L378.9,150.3 Z" fill="#fff" stroke="none"/>
<path clip-path="url(#c16)" d="M259.40,134.00L345.40,220.00M265.80,134.00L351.80,220.00M272.20,134.00L358.20,220.00M278.60,134.00L364.60,220.00M285.00,134.00L371.00,220.00M291.40,134.00L377.40,220.00M297.80,134.00L383.80,220.00M304.20,134.00L390.20,220.00M310.60,134.00L396.60,220.00M317.00,134.00L403.00,220.00M323.40,134.00L409.40,220.00M329.80,134.00L415.80,220.00M336.20,134.00L422.20,220.00M342.60,134.00L428.60,220.00M349.00,134.00L435.00,220.00M355.40,134.00L441.40,220.00M361.80,134.00L447.80,220.00M368.20,134.00L454.20,220.00M374.60,134.00L460.60,220.00M381.00,134.00L467.00,220.00M387.40,134.00L473.40,220.00M349.80,134.00L263.80,220.00M356.20,134.00L270.20,220.00M362.60,134.00L276.60,220.00M369.00,134.00L283.00,220.00M375.40,134.00L289.40,220.00M381.80,134.00L295.80,220.00M388.20,134.00L302.20,220.00M394.60,134.00L308.60,220.00M401.00,134.00L315.00,220.00M407.40,134.00L321.40,220.00M413.80,134.00L327.80,220.00M420.20,134.00L334.20,220.00M426.60,134.00L340.60,220.00M433.00,134.00L347.00,220.00M439.40,134.00L353.40,220.00M445.80,134.00L359.80,220.00M452.20,134.00L366.20,220.00M458.60,134.00L372.60,220.00M465.00,134.00L379.00,220.00M471.40,134.00L385.40,220.00" fill="none" stroke="#3a3a3a" stroke-width="1.0"/>
<path d="M363.6,137 L353.4,137 L353.4,152.2 L359.5,152.2 L362.8,155.5 L364.4,158 L364.4,174 L366.4,178.5 L366.4,216.25 L380.5,216.25 Q383.3,216.25 383.3,213.5 L383.3,206.5 Q383.3,204.4 381.0,204.4 L378.9,204.4 L378.9,150.3 Z" fill="none" stroke="#262626" stroke-width="1.45" stroke-linejoin="round"/>
<path d="M257,140.8 Q242,141.5 241.7,153.5 L241.7,205" fill="none" stroke="#262626" stroke-width="1.1" stroke-linejoin="round" stroke-linecap="butt" />
<path d="M262.8,153.5 L262.8,174.4" fill="none" stroke="#262626" stroke-width="0.9" stroke-linejoin="round" stroke-linecap="butt" />
<path d="M261.2,179 L261.2,216.25" fill="none" stroke="#262626" stroke-width="0.9" stroke-linejoin="round" stroke-linecap="butt" />
<path d="M368.0,140.8 Q383.0,141.5 383.3,153.5 L383.3,205" fill="none" stroke="#262626" stroke-width="1.1" stroke-linejoin="round" stroke-linecap="butt" />
<path d="M362.2,153.5 L362.2,174.4" fill="none" stroke="#262626" stroke-width="0.9" stroke-linejoin="round" stroke-linecap="butt" />
<path d="M363.8,179 L363.8,216.25" fill="none" stroke="#262626" stroke-width="0.9" stroke-linejoin="round" stroke-linecap="butt" />
<path d="M293.5,70 L331.5,70 L332.6,71.5 L332.6,113.3 L337.4,113.3 L337.4,236.9 L341.3,236.9 L341.3,266.5 L283.4,266.5 L283.4,236.9 L287.5,236.9 L287.5,126.4 L292.5,126.4 L292.5,71.5 Z" fill="#fff" stroke="#262626" stroke-width="1.45" stroke-linejoin="round"/>
<path d="M292.5,71.7 L332.6,71.7" fill="none" stroke="#262626" stroke-width="1.0" stroke-linejoin="round" stroke-linecap="butt" />
<path d="M294.5,104 L330.6,104" fill="none" stroke="#262626" stroke-width="1.45" stroke-linejoin="round" stroke-linecap="butt" />
<path d="M332.8,113.3 L332.8,126.6 L337.4,126.6" fill="none" stroke="#262626" stroke-width="1.0" stroke-linejoin="round" stroke-linecap="butt" />
<path d="M287.5,236.9 L337.4,236.9" fill="none" stroke="#262626" stroke-width="1.45" stroke-linejoin="round" stroke-linecap="butt" />
<path d="M294.2,266.5 L294.2,290 L330.6,290 L330.6,266.5" fill="#fff" stroke="#262626" stroke-width="1.45" stroke-linejoin="round"/>
<path d="M294.2,266.5 L330.6,290 M330.6,266.5 L294.2,290" fill="none" stroke="#666" stroke-width="0.5" stroke-linejoin="round" stroke-linecap="butt" />
<path d="M275.6,188.1 L287.5,188.1 L287.5,235.8 L275.6,235.8 Z" fill="#fff" stroke="none"/>
<path clip-path="url(#c17)" d="M221.80,187.10L271.50,236.80M225.60,187.10L275.30,236.80M229.40,187.10L279.10,236.80M233.20,187.10L282.90,236.80M237.00,187.10L286.70,236.80M240.80,187.10L290.50,236.80M244.60,187.10L294.30,236.80M248.40,187.10L298.10,236.80M252.20,187.10L301.90,236.80M256.00,187.10L305.70,236.80M259.80,187.10L309.50,236.80M263.60,187.10L313.30,236.80M267.40,187.10L317.10,236.80M271.20,187.10L320.90,236.80M275.00,187.10L324.70,236.80M278.80,187.10L328.50,236.80M282.60,187.10L332.30,236.80M286.40,187.10L336.10,236.80M272.40,187.10L222.70,236.80M276.20,187.10L226.50,236.80M280.00,187.10L230.30,236.80M283.80,187.10L234.10,236.80M287.60,187.10L237.90,236.80M291.40,187.10L241.70,236.80M295.20,187.10L245.50,236.80M299.00,187.10L249.30,236.80M302.80,187.10L253.10,236.80M306.60,187.10L256.90,236.80M310.40,187.10L260.70,236.80M314.20,187.10L264.50,236.80M318.00,187.10L268.30,236.80M321.80,187.10L272.10,236.80M325.60,187.10L275.90,236.80M329.40,187.10L279.70,236.80M333.20,187.10L283.50,236.80M337.00,187.10L287.30,236.80" fill="none" stroke="#3a3a3a" stroke-width="0.75"/>
<path d="M275.6,227.5 L287.5,227.5 L287.5,235.8 L275.6,235.8 Z" fill="#ddd" stroke="none"/>
<path clip-path="url(#c18)" d="M263.50,226.00L274.30,236.80M265.50,226.00L276.30,236.80M267.50,226.00L278.30,236.80M269.50,226.00L280.30,236.80M271.50,226.00L282.30,236.80M273.50,226.00L284.30,236.80M275.50,226.00L286.30,236.80M277.50,226.00L288.30,236.80M279.50,226.00L290.30,236.80M281.50,226.00L292.30,236.80M283.50,226.00L294.30,236.80M285.50,226.00L296.30,236.80M287.50,226.00L298.30,236.80M273.70,226.00L262.90,236.80M275.70,226.00L264.90,236.80M277.70,226.00L266.90,236.80M279.70,226.00L268.90,236.80M281.70,226.00L270.90,236.80M283.70,226.00L272.90,236.80M285.70,226.00L274.90,236.80M287.70,226.00L276.90,236.80M289.70,226.00L278.90,236.80M291.70,226.00L280.90,236.80M293.70,226.00L282.90,236.80M295.70,226.00L284.90,236.80M297.70,226.00L286.90,236.80" fill="none" stroke="#3a3a3a" stroke-width="0.65"/>
<path d="M275.6,195.2 L287.5,195.2 L282.15000000000003,204.2 L280.95,204.2 Z" fill="#262626"/>
<path d="M278.85,197.79999999999998 L284.25,197.79999999999998 L281.55,202.39999999999998 Z" fill="#fff"/>
<path d="M275.6,207.8 L287.5,207.8 L282.15000000000003,216.8 L280.95,216.8 Z" fill="#262626"/>
<path d="M278.85,210.4 L284.25,210.4 L281.55,215.0 Z" fill="#fff"/>
<path d="M275.6,220.2 L287.5,220.2 L282.15000000000003,229.2 L280.95,229.2 Z" fill="#262626"/>
<path d="M278.85,222.79999999999998 L284.25,222.79999999999998 L281.55,227.39999999999998 Z" fill="#fff"/>
<path d="M275.6,188.1 L287.5,188.1 L287.5,235.8 L275.6,235.8 Z" fill="none" stroke="#262626" stroke-width="1.5"/>
<path d="M337.5,188.1 L349.4,188.1 L349.4,235.8 L337.5,235.8 Z" fill="#fff" stroke="none"/>
<path clip-path="url(#c19)" d="M283.70,187.10L333.40,236.80M287.50,187.10L337.20,236.80M291.30,187.10L341.00,236.80M295.10,187.10L344.80,236.80M298.90,187.10L348.60,236.80M302.70,187.10L352.40,236.80M306.50,187.10L356.20,236.80M310.30,187.10L360.00,236.80M314.10,187.10L363.80,236.80M317.90,187.10L367.60,236.80M321.70,187.10L371.40,236.80M325.50,187.10L375.20,236.80M329.30,187.10L379.00,236.80M333.10,187.10L382.80,236.80M336.90,187.10L386.60,236.80M340.70,187.10L390.40,236.80M344.50,187.10L394.20,236.80M348.30,187.10L398.00,236.80M334.30,187.10L284.60,236.80M338.10,187.10L288.40,236.80M341.90,187.10L292.20,236.80M345.70,187.10L296.00,236.80M349.50,187.10L299.80,236.80M353.30,187.10L303.60,236.80M357.10,187.10L307.40,236.80M360.90,187.10L311.20,236.80M364.70,187.10L315.00,236.80M368.50,187.10L318.80,236.80M372.30,187.10L322.60,236.80M376.10,187.10L326.40,236.80M379.90,187.10L330.20,236.80M383.70,187.10L334.00,236.80M387.50,187.10L337.80,236.80M391.30,187.10L341.60,236.80M395.10,187.10L345.40,236.80M398.90,187.10L349.20,236.80" fill="none" stroke="#3a3a3a" stroke-width="0.75"/>
<path d="M337.5,227.5 L349.4,227.5 L349.4,235.8 L337.5,235.8 Z" fill="#ddd" stroke="none"/>
<path clip-path="url(#c20)" d="M325.40,226.00L336.20,236.80M327.40,226.00L338.20,236.80M329.40,226.00L340.20,236.80M331.40,226.00L342.20,236.80M333.40,226.00L344.20,236.80M335.40,226.00L346.20,236.80M337.40,226.00L348.20,236.80M339.40,226.00L350.20,236.80M341.40,226.00L352.20,236.80M343.40,226.00L354.20,236.80M345.40,226.00L356.20,236.80M347.40,226.00L358.20,236.80M349.40,226.00L360.20,236.80M335.60,226.00L324.80,236.80M337.60,226.00L326.80,236.80M339.60,226.00L328.80,236.80M341.60,226.00L330.80,236.80M343.60,226.00L332.80,236.80M345.60,226.00L334.80,236.80M347.60,226.00L336.80,236.80M349.60,226.00L338.80,236.80M351.60,226.00L340.80,236.80M353.60,226.00L342.80,236.80M355.60,226.00L344.80,236.80M357.60,226.00L346.80,236.80M359.60,226.00L348.80,236.80" fill="none" stroke="#3a3a3a" stroke-width="0.65"/>
<path d="M337.5,195.2 L349.4,195.2 L344.05,204.2 L342.84999999999997,204.2 Z" fill="#262626"/>
<path d="M340.75,197.79999999999998 L346.15,197.79999999999998 L343.45,202.39999999999998 Z" fill="#fff"/>
<path d="M337.5,207.8 L349.4,207.8 L344.05,216.8 L342.84999999999997,216.8 Z" fill="#262626"/>
<path d="M340.75,210.4 L346.15,210.4 L343.45,215.0 Z" fill="#fff"/>
<path d="M337.5,220.2 L349.4,220.2 L344.05,229.2 L342.84999999999997,229.2 Z" fill="#262626"/>
<path d="M340.75,222.79999999999998 L346.15,222.79999999999998 L343.45,227.39999999999998 Z" fill="#fff"/>
<path d="M337.5,188.1 L349.4,188.1 L349.4,235.8 L337.5,235.8 Z" fill="none" stroke="#262626" stroke-width="1.5"/>
<path d="M312.5,29 L312.5,360 M312.5,367.5 L312.5,382 M312.5,388 L312.5,438" fill="none" stroke="#555" stroke-width="0.6" stroke-linejoin="round" stroke-linecap="butt" />
<path d="M103,349.2 L140,349.2M146,349.2 L152,349.2M162,349.2 L210,349.2M214,349.2 L220,349.2M228,349.2 L278,349.2M283,349.2 L288,349.2M298,349.2 L332,349.2M340,349.2 L350,349.2M356,349.2 L528,349.2" fill="none" stroke="#555" stroke-width="0.6" stroke-linejoin="round" stroke-linecap="butt" />
<path d="M109,187.3 L154,187.3M109,228.5 L154,228.5M109,510.7 L154,510.7M109,469.5 L154,469.5M77,207.5 L160.5,207.5M465,207.5 L521.5,207.5M77,490.5 L160.5,490.5M465,490.5 L521.5,490.5M471,510.7 L516,510.7M471,469.5 L516,469.5M471,187.3 L556,187.3M471,227.6 L556,227.6" fill="none" stroke="#888" stroke-width="0.7" stroke-linejoin="round" stroke-linecap="butt" />
<path d="M50,168 L108,168 M50,530 L108,530 M55,168 L55,530M81.3,207.5 L81.3,341.5 M81.3,370 L81.3,490.5M108.5,531 L108.5,579 M516.2,531 L516.2,579 M470.8,531 L470.8,557M108.5,573.3 L308,573.3 M321,573.3 L516.2,573.3M470.8,552 L487,552 M503.5,552 L516.2,552M551.3,187.3 L551.3,227.6M102.5,241.2 L118.5,241.2M102.5,257 L118.5,257M102.5,456.8 L118.5,456.8M102.5,441.0 L118.5,441.0M506,241.3 L522,241.3M506,256.3 L522,256.3M506,456.7 L522,456.7M506,439.3 L522,439.3" fill="none" stroke="#666" stroke-width="0.7" stroke-linejoin="round" stroke-linecap="butt" />
<path d="M55,168 L56.10,174.50 L53.90,174.50 Z" fill="#222"/>
<path d="M55,530 L53.90,523.50 L56.10,523.50 Z" fill="#222"/>
<path d="M81.3,207.5 L82.40,214.00 L80.20,214.00 Z" fill="#222"/>
<path d="M81.3,490.5 L80.20,484.00 L82.40,484.00 Z" fill="#222"/>
<path d="M108.5,573.3 L115.00,572.20 L115.00,574.40 Z" fill="#222"/>
<path d="M516.2,573.3 L509.70,574.40 L509.70,572.20 Z" fill="#222"/>
<path d="M470.8,552 L477.30,550.90 L477.30,553.10 Z" fill="#222"/>
<path d="M516.2,552 L509.70,553.10 L509.70,550.90 Z" fill="#222"/>
<path d="M551.3,187.3 L552.40,193.80 L550.20,193.80 Z" fill="#222"/>
<path d="M551.3,227.6 L550.20,221.10 L552.40,221.10 Z" fill="#222"/>
<path d="M108.8,241.2 L112.00,239.90 L112.00,242.50 Z" fill="#222"/>
<path d="M108.8,257 L112.00,255.70 L112.00,258.30 Z" fill="#222"/>
<path d="M108.8,456.8 L112.00,455.50 L112.00,458.10 Z" fill="#222"/>
<path d="M108.8,441.0 L112.00,439.70 L112.00,442.30 Z" fill="#222"/>
<path d="M516,241.3 L512.80,242.60 L512.80,240.00 Z" fill="#222"/>
<path d="M516,456.7 L512.80,458.00 L512.80,455.40 Z" fill="#222"/>
<text opacity="0.99" x="50.3" y="349" font-size="18" letter-spacing="0" text-anchor="middle" transform="rotate(-90 50.3 349)">D</text>
<text opacity="0.99" x="88" y="356" font-size="20" letter-spacing="0" text-anchor="middle" transform="rotate(-90 88 356)">d</text>
<text opacity="0.99" x="314.3" y="573.6" font-size="19" letter-spacing="0" text-anchor="middle" transform="rotate(0.05 314.3 573.6)">L</text>
<text opacity="0.99" x="495" y="555.8" font-size="22.5" letter-spacing="0" text-anchor="middle" transform="rotate(0.05 495 555.8)">b</text>
<text opacity="0.99" x="548.8" y="210.3" font-size="18" letter-spacing="1.1" text-anchor="middle" transform="rotate(-90 548.8 210.3)">n-Φ</text>
</svg>
</body></html>
